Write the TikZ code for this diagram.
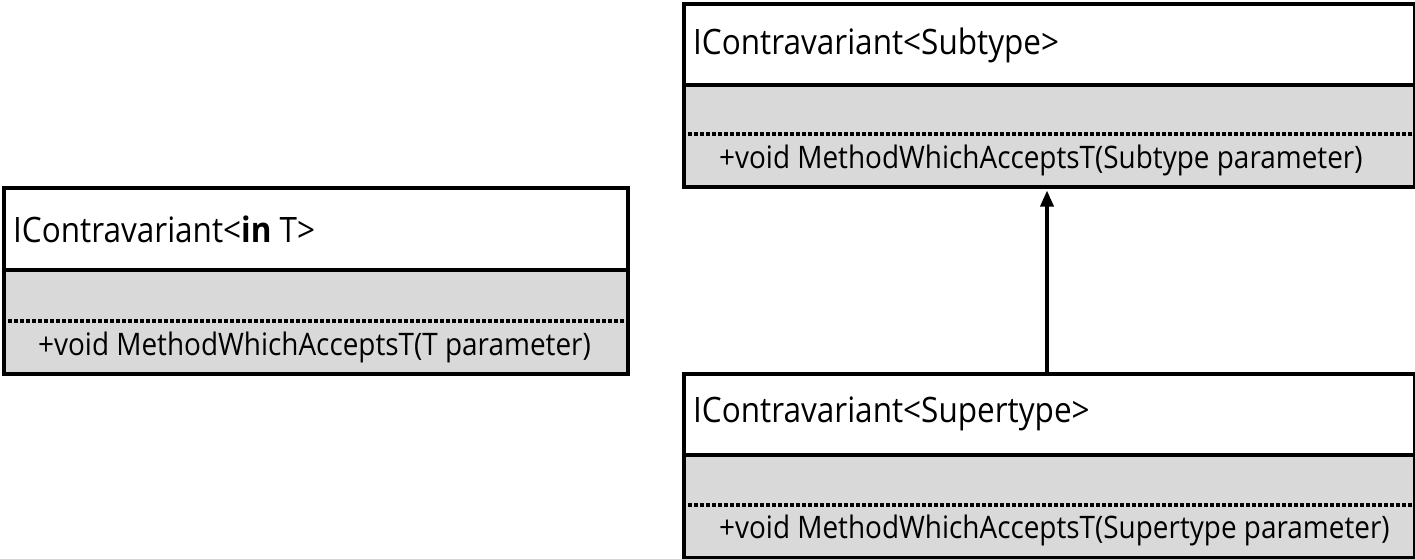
\documentclass[tikz,border=0pt]{standalone}
\usepackage{fontspec}
\setmainfont{Open Sans}[FakeStretch=0.9]
\usetikzlibrary{arrows.meta}
\definecolor{compgray}{HTML}{D9D9D9}
\tikzset{
  x=1pt, y=-1pt,
  classbox/.style={draw, line width=3.5pt, inner sep=0pt, anchor=north west},
  sepline/.style={line width=3.5pt},
  dotline/.style={line width=3.5pt, dash pattern=on 3.5pt off 2.5pt},
  headtext/.style={anchor=west, inner sep=0pt, font=\fontsize{35}{40}\selectfont},
  methtext/.style={anchor=west, inner sep=0pt, font=\fontsize{31}{36}\selectfont},
  inherit/.style={line width=3.5pt, -{Triangle[length=16pt, width=13pt]}, shorten >=2pt}
}
\begin{document}
\begin{tikzpicture}
\useasboundingbox (0,0) rectangle (1415,558);
% left class
\fill[compgray] (2,270) rectangle (626,372);
\draw[sepline] (2,270) -- (626,270);
\draw[dotline] (2,321) -- (626,321);
\node[classbox, minimum width=624pt, minimum height=186pt] (gen) at (2,186) {};
\node[headtext] (genname) at (13,229) {IContravariant<\textbf{in} T>};
\node[methtext] (genmeth) at (38,347) {+void MethodWhichAcceptsT(T parameter)};
% top-right class
\fill[compgray] (682,85) rectangle (1413,185);
\draw[sepline] (682,85) -- (1413,85);
\draw[dotline] (682,134) -- (1413,134);
\node[classbox, minimum width=731pt, minimum height=183pt] (sub) at (682,2) {};
\node[headtext] (subname) at (693,45) {IContravariant<Subtype>};
\node[methtext] (submeth) at (719,160) {+void MethodWhichAcceptsT(Subtype parameter)};
% bottom-right class
\fill[compgray] (682,455) rectangle (1413,556);
\draw[sepline] (682,455) -- (1413,455);
\draw[dotline] (682,505) -- (1413,505);
\node[classbox, minimum width=731pt, minimum height=184pt] (sup) at (682,372) {};
\node[headtext] (supname) at (693,414) {IContravariant<Supertype>};
\node[methtext] (supmeth) at (719,530) {+void MethodWhichAcceptsT(Supertype parameter)};
% arrow
\draw[inherit] (sup.north -| 1047,0) -- (sub.south -| 1047,0);
\end{tikzpicture}
\end{document}
